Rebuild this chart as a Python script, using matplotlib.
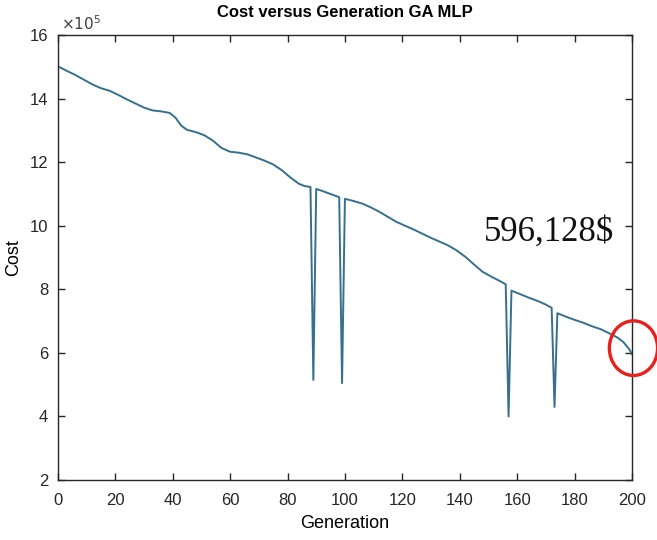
import matplotlib
matplotlib.use("Agg")
import matplotlib.pyplot as plt
from matplotlib.patches import Ellipse

# ==== data (cost in units of 1e5) ====
generation = [0, 3, 6, 9, 12, 15, 18, 21, 24, 27, 30, 33, 36, 39, 41, 43, 45, 48,
              51, 54, 57, 60, 63, 66, 69, 72, 75, 78, 81, 84, 86, 88, 89, 90, 92,
              95, 98, 99, 100, 103, 106, 109, 112, 115, 118, 121, 124, 127, 130,
              133, 136, 139, 142, 145, 148, 151, 154, 156, 157, 158, 161, 164,
              167, 170, 172, 173, 174, 177, 180, 183, 186, 189, 192, 195, 197,
              199, 200]
cost = [15.02, 14.88, 14.75, 14.60, 14.45, 14.33, 14.25, 14.12, 13.98, 13.85,
        13.72, 13.63, 13.60, 13.55, 13.40, 13.15, 13.02, 12.95, 12.85, 12.68,
        12.45, 12.33, 12.30, 12.25, 12.15, 12.05, 11.93, 11.75, 11.52, 11.32,
        11.25, 11.22, 5.15, 11.16, 11.10, 11.00, 10.90, 5.05, 10.85, 10.78,
        10.70, 10.58, 10.44, 10.28, 10.12, 10.00, 9.88, 9.75, 9.62, 9.50, 9.38,
        9.22, 9.02, 8.78, 8.55, 8.40, 8.26, 8.16, 4.00, 7.96, 7.85, 7.74, 7.64,
        7.52, 7.42, 4.30, 7.25, 7.14, 7.04, 6.95, 6.84, 6.75, 6.62, 6.48, 6.34,
        6.12, 5.96]
final_label = "596,128$"

plt.rcParams["font.family"] = ["Liberation Sans", "DejaVu Sans"]

fig = plt.figure(figsize=(6.57, 5.40), dpi=100)
ax = fig.add_axes([0.088, 0.111, 0.874, 0.824])

ax.plot(generation, cost, color="#35708f", linewidth=1.4)

ax.set_xlim(0, 200)
ax.set_ylim(2, 16)
ax.set_xticks(range(0, 201, 20))
ax.set_yticks(range(2, 17, 2))
ax.tick_params(direction="in", length=5, width=1, labelsize=12,
               top=True, right=True, colors="#262626")
ax.tick_params(axis="x", pad=9)
ax.tick_params(axis="y", pad=7)
for s in ax.spines.values():
    s.set_color("#262626")
    s.set_linewidth(1.0)

ax.set_title("Cost versus Generation GA MLP", fontsize=12, fontweight="bold", pad=13)
ax.set_xlabel("Generation", fontsize=13, labelpad=5)
ax.set_ylabel("Cost", fontsize=13, labelpad=5)
ax.text(0.005, 1.005, r"$\times10^5$", transform=ax.transAxes, fontsize=11,
        color="#404040", va="bottom", ha="left")

ax.text(171, 9.8, final_label, fontsize=25, family="Liberation Serif",
        ha="center", va="center", color="#111111")

circle = Ellipse((200.5, 6.15), 16.8, 1.72, fill=False, edgecolor="#e8201c",
                 linewidth=2.4, clip_on=False, zorder=5)
ax.add_patch(circle)

fig.savefig("out.png", dpi=100)
